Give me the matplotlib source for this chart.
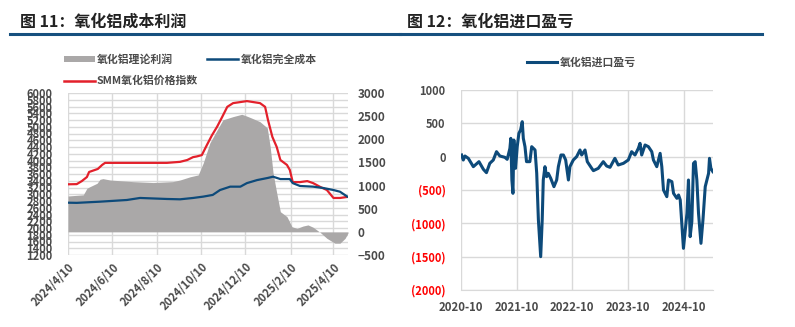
import numpy as np
import pandas as pd
import matplotlib
matplotlib.use('Agg')
import matplotlib.pyplot as plt
from matplotlib.lines import Line2D
from matplotlib.patches import Rectangle

plt.rcParams['font.family'] = ['Noto Sans CJK SC', 'DejaVu Sans']

# ---- 图11 data ----
price_dates = ['2024-04-10', '2024-04-22', '2024-04-29', '2024-05-06', '2024-05-09', '2024-05-17',
               '2024-05-21', '2024-05-27', '2024-05-31', '2024-08-24', '2024-09-11', '2024-09-21',
               '2024-09-29', '2024-10-04', '2024-10-11', '2024-10-18', '2024-10-25', '2024-11-01',
               '2024-11-08', '2024-11-15', '2024-11-23', '2024-12-12', '2024-12-30', '2025-01-06',
               '2025-01-10', '2025-01-16', '2025-01-22', '2025-01-27', '2025-02-05', '2025-02-09',
               '2025-02-13', '2025-02-23', '2025-03-05', '2025-03-13', '2025-03-23', '2025-04-01',
               '2025-04-10', '2025-04-19', '2025-04-29']
price_vals = [3295, 3300, 3390, 3510, 3660, 3720, 3750, 3870, 3930, 3930, 3960, 4015,
              4100, 4120, 4160, 4460, 4750, 5000, 5290, 5590, 5700, 5760, 5700, 5590,
              5200, 4700, 4400, 4015, 3870, 3720, 3360, 3360, 3390, 3330, 3215, 3125,
              2890, 2890, 2920]

cost_dates = ['2024-04-10', '2024-04-22', '2024-05-24', '2024-06-30', '2024-07-18', '2024-08-24',
              '2024-09-11', '2024-09-29', '2024-10-13', '2024-10-26', '2024-11-05', '2024-11-19',
              '2024-12-03', '2024-12-12', '2024-12-26', '2025-01-09', '2025-01-17', '2025-01-27',
              '2025-02-09', '2025-02-13', '2025-02-23', '2025-03-13', '2025-03-27', '2025-04-10',
              '2025-04-19', '2025-04-29']
cost_vals = [2750, 2745, 2780, 2830, 2890, 2860, 2850, 2890, 2930, 2980, 3125, 3225,
             3225, 3330, 3420, 3480, 3520, 3450, 3450, 3330, 3245, 3225, 3185, 3125,
             3075, 2930]

profit_dates = ['2024-04-10', '2024-05-01', '2024-05-06', '2024-05-10', '2024-05-20', '2024-05-24',
                '2024-05-28', '2024-06-07', '2024-07-08', '2024-08-05', '2024-09-01', '2024-09-11',
                '2024-09-25', '2024-10-06', '2024-10-13', '2024-10-22', '2024-11-01', '2024-11-09',
                '2024-11-23', '2024-12-05', '2024-12-12', '2024-12-19', '2024-12-30', '2025-01-09',
                '2025-01-13', '2025-01-17', '2025-01-22', '2025-01-27', '2025-02-05', '2025-02-12',
                '2025-02-19', '2025-02-27', '2025-03-06', '2025-03-13', '2025-03-23', '2025-04-01',
                '2025-04-12', '2025-04-19', '2025-04-26', '2025-04-30']
profit_vals = [775, 800, 940, 975, 1050, 1135, 1150, 1120, 1085, 1065, 1085, 1120,
               1190, 1230, 1490, 1920, 2200, 2420, 2490, 2540, 2500, 2455, 2380, 2245,
               1840, 1270, 840, 435, 330, 110, 75, 125, 150, 100, -15, -140,
               -245, -245, -140, -25]

left_xticks = ['2024-04-10', '2024-06-10', '2024-08-10', '2024-10-10', '2024-12-10',
               '2025-02-10', '2025-04-10']
left_xlabels = ['2024/4/10', '2024/6/10', '2024/8/10', '2024/10/10', '2024/12/10',
                '2025/2/10', '2025/4/10']

# ---- 图12 data ----
imp_dates = ['2020-10-05', '2020-10-16', '2020-10-27', '2020-11-18', '2020-12-21', '2021-01-27',
             '2021-02-25', '2021-03-17', '2021-04-08', '2021-05-01', '2021-05-22', '2021-06-13',
             '2021-07-16', '2021-07-31', '2021-08-09', '2021-08-18', '2021-08-24', '2021-08-31',
             '2021-09-07', '2021-09-13', '2021-09-24', '2021-10-05', '2021-10-16', '2021-10-27',
             '2021-11-07', '2021-11-14', '2021-11-25', '2021-12-05', '2021-12-27', '2022-01-08',
             '2022-01-30', '2022-02-10', '2022-02-21', '2022-03-08', '2022-03-18', '2022-03-25',
             '2022-04-05', '2022-04-16', '2022-04-27', '2022-05-13', '2022-06-03', '2022-06-21',
             '2022-07-02', '2022-07-19', '2022-08-04', '2022-08-19', '2022-09-06', '2022-09-16',
             '2022-10-08', '2022-10-30', '2022-11-21', '2022-12-02', '2022-12-24', '2023-01-08',
             '2023-02-06', '2023-02-17', '2023-03-21', '2023-04-23', '2023-05-15', '2023-06-06',
             '2023-07-08', '2023-07-30', '2023-09-02', '2023-10-04', '2023-10-26', '2023-11-17',
             '2023-12-09', '2023-12-20', '2023-12-31', '2024-01-22', '2024-02-13', '2024-03-06',
             '2024-03-17', '2024-04-08', '2024-04-30', '2024-05-11', '2024-05-22', '2024-06-13',
             '2024-06-24', '2024-07-16', '2024-07-27', '2024-08-18', '2024-08-29', '2024-09-09',
             '2024-09-30', '2024-10-23', '2024-11-02', '2024-11-13', '2024-11-24', '2024-12-05',
             '2024-12-16', '2024-12-27', '2025-01-07', '2025-01-23', '2025-02-05', '2025-02-20',
             '2025-03-03', '2025-03-14', '2025-03-20', '2025-03-29', '2025-04-11']
imp_vals = [25, -50, 10, -25, -150, -75,
            -190, -240, -100, -50, 75, 10,
            -10, -40, 40, 125, 275, -350,
            -550, 250, -175, 150, 350, 400,
            525, 275, 150, -75, -75, 150,
            100, -250, -950, -1500, -950, -350,
            -150, -300, -250, -325, -450, -350,
            -150, 25, 25, -50, -350, -150,
            -50, 0, 100, 25, 100, -75,
            -175, -210, -175, -75, -140, -160,
            -25, -125, -100, -50, 75, 25,
            125, 200, 25, 175, 150, 75,
            -50, -150, 50, -150, -500, -600,
            -350, -375, -550, -625, -575, -650,
            -1375, -850, -350, -1200, -975, -100,
            -75, -350, -850, -1300, -950, -450,
            -350, -250, -25, -175, -225]

right_xticks = ['2020-10-01', '2021-10-01', '2022-10-01', '2023-10-01', '2024-10-01']
right_xlabels = ['2020-10', '2021-10', '2022-10', '2023-10', '2024-10']
right_yticks = [1000, 500, 0, -500, -1000, -1500, -2000]
right_ylabels = ['1000', '500', '0', '(500)', '(1000)', '(1500)', '(2000)']

TXT = '#4a4a4a'
GRID = '#d9d9d9'
NAVY = '#0d4a7a'
RED = '#e3202b'
GRAY = '#aaa8a8'

fig = plt.figure(figsize=(7.95, 3.27), dpi=100)

# titles and rules
fig.text(20 / 795, 1 - 22 / 327, '图 11：氧化铝成本利润', fontsize=11.5, color='#222222',
         va='center', fontweight='bold')
fig.text(407 / 795, 1 - 22 / 327, '图 12：氧化铝进口盈亏', fontsize=11.5, color='#222222',
         va='center', fontweight='bold')
fig.add_artist(Line2D([10 / 795, 400 / 795], [1 - 34 / 327] * 2, color='#16507f', lw=2.2))
fig.add_artist(Line2D([400 / 795, 762 / 795], [1 - 34 / 327] * 2, color='#16507f', lw=2.2))

# ---- left chart ----
ax = fig.add_axes([68 / 795, 1 - 255 / 327, 280 / 795, 162 / 327])
ax2 = ax.twinx()
ax3 = ax.twinx()

pd_price = pd.to_datetime(price_dates)
pd_cost = pd.to_datetime(cost_dates)
pd_profit = pd.to_datetime(profit_dates)

ax2.fill_between(pd_profit, 0, profit_vals, color=GRAY, lw=0)
ax3.plot(pd_price, price_vals, color=RED, lw=1.6)
ax3.plot(pd_cost, cost_vals, color=NAVY, lw=1.6)

xl = (pd.Timestamp('2024-04-10'), pd.Timestamp('2025-04-30'))
for a in (ax, ax2, ax3):
    a.set_xlim(xl)
    for s in a.spines.values():
        s.set_visible(False)
ax.set_ylim(1200, 6000)
ax3.set_ylim(1200, 6000)
ax2.set_ylim(-500, 3000)

ax.set_yticks(np.arange(1200, 6001, 200))
ax.set_xticks(pd.to_datetime(left_xticks))
ax.set_xticklabels(left_xlabels, rotation=45, ha='right', rotation_mode='anchor')
ax.grid(True, color=GRID, lw=1)
ax.set_axisbelow(True)
ax.tick_params(axis='y', length=0, pad=11, labelsize=8, labelcolor=TXT)
ax.tick_params(axis='x', length=0, pad=4, labelsize=8, labelcolor=TXT)
ax2.set_yticks(np.arange(-500, 3001, 500))
ax2.tick_params(axis='y', length=0, pad=7, labelsize=8.5, labelcolor=TXT)
ax3.set_yticks([])
for lab in ax.get_xticklabels() + ax.get_yticklabels() + ax2.get_yticklabels():
    lab.set_fontweight('bold')

# left legend
fig.add_artist(Rectangle((64 / 795, 1 - 62 / 327), 31 / 795, 6 / 327, color=GRAY, lw=0))
fig.text(97 / 795, 1 - 59 / 327, '氧化铝理论利润', fontsize=7.8, color=TXT, va='center', fontweight='bold')
fig.add_artist(Line2D([207 / 795, 238 / 795], [1 - 59 / 327] * 2, color=NAVY, lw=1.8))
fig.text(241 / 795, 1 - 59 / 327, '氧化铝完全成本', fontsize=7.8, color=TXT, va='center', fontweight='bold')
fig.add_artist(Line2D([64 / 795, 95 / 795], [1 - 81 / 327] * 2, color=RED, lw=1.8))
fig.text(97 / 795, 1 - 81 / 327, 'SMM氧化铝价格指数', fontsize=7.8, color=TXT, va='center', fontweight='bold')

# ---- right chart ----
bx = fig.add_axes([461 / 795, 1 - 290 / 327, 252 / 795, 200 / 327])
bx.plot(pd.to_datetime(imp_dates), imp_vals, color=NAVY, lw=2.2)
bx.set_xlim(pd.Timestamp('2020-10-01'), pd.Timestamp('2025-04-12'))
bx.set_ylim(-2000, 1000)
bx.set_yticks(right_yticks)
bx.set_yticklabels(right_ylabels)
bx.set_xticks(pd.to_datetime(right_xticks))
bx.set_xticklabels(right_xlabels)
bx.grid(True, color=GRID, lw=1)
bx.set_axisbelow(True)
for k, s in bx.spines.items():
    s.set_visible(k == 'bottom')
bx.spines['bottom'].set_color(GRID)
bx.tick_params(axis='y', length=0, pad=11, labelsize=8, labelcolor=TXT)
bx.tick_params(axis='x', length=0, pad=8, labelsize=8.2, labelcolor=TXT)
for lab, v in zip(bx.get_yticklabels(), right_yticks):
    lab.set_fontweight('bold')
    if v < 0:
        lab.set_color('#ff0000')
for lab in bx.get_xticklabels():
    lab.set_fontweight('bold')

fig.add_artist(Line2D([527 / 795, 557 / 795], [1 - 62 / 327] * 2, color=NAVY, lw=2.2))
fig.text(560 / 795, 1 - 62 / 327, '氧化铝进口盈亏', fontsize=7.8, color=TXT, va='center', fontweight='bold')

fig.savefig('out.png', dpi=100)
